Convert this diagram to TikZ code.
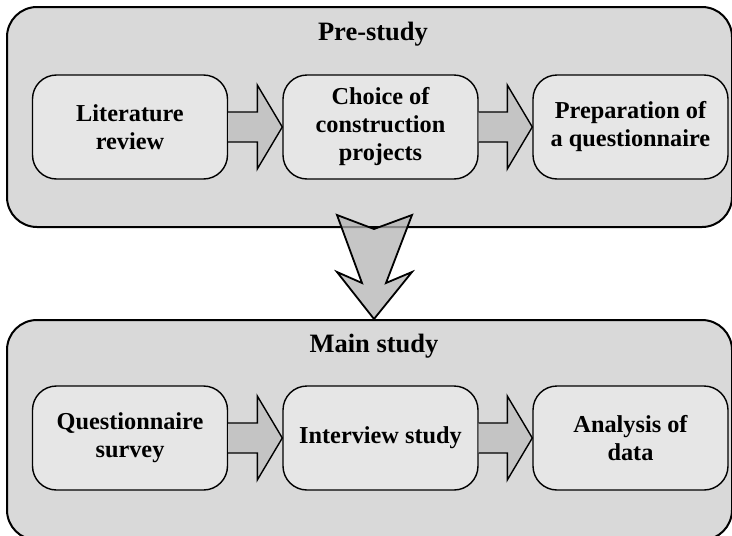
\documentclass[tikz,border=0pt]{standalone}
\usepackage{fontspec}
\setmainfont{Liberation Serif}
\usetikzlibrary{calc}
\definecolor{outerfill}{HTML}{D9D9D9}
\definecolor{innerfill}{HTML}{E6E6E6}
\definecolor{arrowfill}{HTML}{C4C4C4}
\definecolor{downfill}{HTML}{B4B4B4}
\newcommand{\blockarr}[2]{%
  \draw[blockarrow] ($(#1.east)+(0,-15)$) -- ($(#2.west)+(-25,-15)$) -- ($(#2.west)+(-25,-42)$) -- (#2.west) -- ($(#2.west)+(-25,42)$) -- ($(#2.west)+(-25,15)$) -- ($(#1.east)+(0,15)$);}
\begin{document}
\begin{tikzpicture}[x=1pt,y=-1pt,
  outerbox/.style={draw=black, line width=2pt, fill=outerfill, rounded corners=30pt, minimum width=725pt, inner sep=0pt},
  stepbox/.style={draw=black, line width=1.4pt, fill=innerfill, rounded corners=24pt, minimum width=195pt, minimum height=104pt, align=center, font=\bfseries\fontsize{24.3}{28}\selectfont, inner sep=0pt},
  titletext/.style={font=\bfseries\fontsize{26.5}{30}\selectfont, anchor=base, inner sep=0pt},
  blockarrow/.style={draw=black, line width=1.4pt, fill=arrowfill, line join=miter},
  downarrow/.style={draw=black, line width=1.8pt, fill=downfill, fill opacity=0.75, line join=miter}
]
\clip (0,0) rectangle (732,536);
\fill[white] (0,0) rectangle (732,536);
\node[outerbox, minimum height=220pt] (pre) at (369.5,117) {};
\node[outerbox, minimum height=220pt] (main) at (369.5,430) {};
\node[titletext] (pret) at (373,40) {Pre-study};
\node[titletext] (maint) at (374,352) {Main study};
\node[stepbox] (a) at (130,127) {Literature\\review};
\node[stepbox] (b) at (380.5,127) {Choice of\\construction\\projects};
\node[stepbox] (c) at (630.5,127) {Preparation of\\a questionnaire};
\node[stepbox] (d) at (130,438) {Questionnaire\\survey};
\node[stepbox] (e) at (380.5,438) {Interview study};
\node[stepbox] (f) at (630.5,438) {Analysis of\\data};
\blockarr{a}{b}
\blockarr{b}{c}
\blockarr{d}{e}
\blockarr{e}{f}
\coordinate (dc) at ($(pre.south)+(4.5,0)$);
\draw[downarrow] ($(dc)+(-37,-13)$) -- ($(dc)+(0,1)$) -- ($(dc)+(38,-13)$) -- ($(dc)+(12,55)$) -- ($(dc)+(38,44)$) -- ($(dc)+(0,91)$) -- ($(dc)+(-37,44)$) -- ($(dc)+(-12,55)$) -- cycle;
\end{tikzpicture}
\end{document}
